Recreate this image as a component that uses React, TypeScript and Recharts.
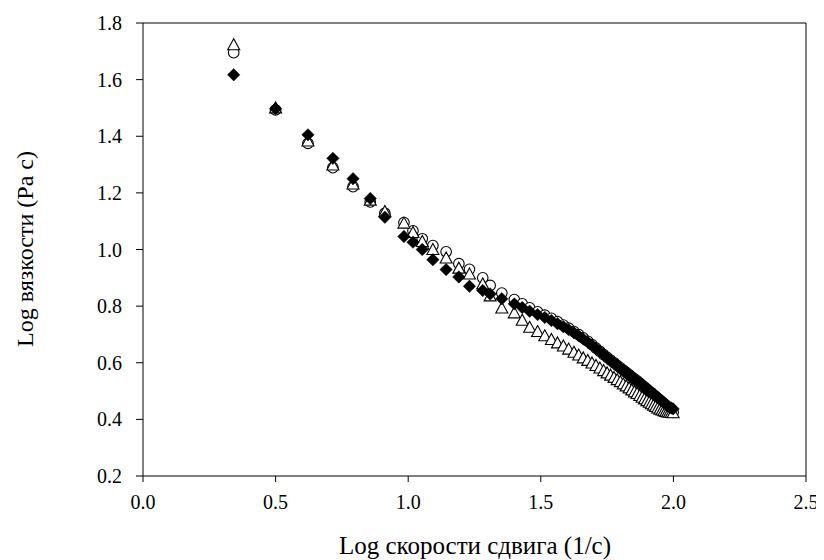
import React from 'react';
import { ScatterChart, Scatter, XAxis, YAxis, ReferenceLine } from 'recharts';

const xs = [
  0.342, 0.500, 0.622, 0.716, 0.792, 0.857, 0.912, 0.984, 1.018, 1.053,
  1.093, 1.143, 1.191, 1.231, 1.281, 1.309, 1.353, 1.400, 1.430, 1.458,
  1.488, 1.515, 1.540, 1.563, 1.585, 1.605, 1.625, 1.643, 1.660, 1.677,
  1.693, 1.708, 1.723, 1.737, 1.750, 1.763, 1.776, 1.788, 1.800, 1.811,
  1.822, 1.833, 1.843, 1.853, 1.863, 1.873, 1.882, 1.891, 1.900, 1.909,
  1.917, 1.925, 1.933, 1.941, 1.949, 1.957, 1.964, 1.971, 1.978, 1.985,
  1.992, 1.999,
];

const triY = [
  1.725, 1.502, 1.385, 1.300, 1.233, 1.176, 1.136, 1.095, 1.062, 1.030,
  1.002, 0.972, 0.936, 0.915, 0.880, 0.838, 0.795, 0.778, 0.752, 0.727,
  0.712, 0.697, 0.684, 0.672, 0.661, 0.650, 0.639, 0.629, 0.619, 0.610,
  0.601, 0.592, 0.583, 0.574, 0.566, 0.558, 0.550, 0.542, 0.535, 0.527,
  0.520, 0.513, 0.506, 0.499, 0.493, 0.486, 0.480, 0.474, 0.468, 0.462,
  0.457, 0.452, 0.447, 0.442, 0.438, 0.435, 0.432, 0.430, 0.428, 0.427,
  0.426, 0.425,
];

const circY = [
  1.695, 1.493, 1.375, 1.289, 1.222, 1.168, 1.128, 1.095, 1.066, 1.038,
  1.014, 0.992, 0.950, 0.930, 0.900, 0.873, 0.846, 0.823, 0.808, 0.794,
  0.780, 0.768, 0.757, 0.745, 0.733, 0.722, 0.710, 0.699, 0.688, 0.676,
  0.664, 0.652, 0.640, 0.629, 0.619, 0.609, 0.600, 0.591, 0.582, 0.574,
  0.566, 0.558, 0.550, 0.543, 0.536, 0.528, 0.521, 0.514, 0.507, 0.500,
  0.494, 0.487, 0.481, 0.474, 0.468, 0.462, 0.456, 0.450, 0.444, 0.438,
  0.432, 0.425,
];

const diaY = [
  1.617, 1.497, 1.405, 1.322, 1.250, 1.180, 1.114, 1.046, 1.026, 1.000,
  0.964, 0.929, 0.903, 0.870, 0.855, 0.843, 0.826, 0.808, 0.795, 0.782,
  0.770, 0.760, 0.749, 0.738, 0.727, 0.717, 0.706, 0.695, 0.684, 0.673,
  0.662, 0.651, 0.640, 0.629, 0.619, 0.609, 0.600, 0.591, 0.582, 0.574,
  0.566, 0.558, 0.550, 0.543, 0.536, 0.529, 0.522, 0.515, 0.508, 0.501,
  0.495, 0.489, 0.483, 0.477, 0.471, 0.465, 0.459, 0.453, 0.448, 0.443,
  0.440, 0.437,
];

const xTicks = [0, 0.5, 1.0, 1.5, 2.0, 2.5];
const yTicks = [0.2, 0.4, 0.6, 0.8, 1.0, 1.2, 1.4, 1.6, 1.8];

const xLabel = 'Log скорости сдвига (1/с)';
const yLabel = 'Log вязкости (Pa c)';

const triData = xs.map((x, i) => ({ x, y: triY[i] }));
const circData = xs.map((x, i) => ({ x, y: circY[i] }));
const diaData = xs.map((x, i) => ({ x, y: diaY[i] }));

const FONT = '"Liberation Serif", "Times New Roman", serif';

const Triangle = (p: any) => {
  const { cx, cy } = p;
  if (cx == null || cy == null) return null;
  const w = 6;
  const h = 5.5;
  return (
    <polygon
      points={`${cx},${cy - h} ${cx - w},${cy + h} ${cx + w},${cy + h}`}
      fill="#fff"
      stroke="#000"
      strokeWidth={1.1}
    />
  );
};

const Circle = (p: any) => {
  const { cx, cy } = p;
  if (cx == null || cy == null) return null;
  return <circle cx={cx} cy={cy} r={5.3} fill="#fff" stroke="#000" strokeWidth={1.1} />;
};

const Diamond = (p: any) => {
  const { cx, cy } = p;
  if (cx == null || cy == null) return null;
  const r = 6.2;
  return (
    <polygon
      points={`${cx},${cy - r} ${cx + r},${cy} ${cx},${cy + r} ${cx - r},${cy}`}
      fill="#000"
      stroke="#000"
      strokeWidth={0.5}
    />
  );
};

const XLab = () => (
  <text x={467} y={546} textAnchor="middle" fontFamily={FONT} fontSize={25} fill="#000">
    {xLabel}
  </text>
);

const YLab = () => (
  <text
    x={0}
    y={0}
    transform={`translate(25, 241) rotate(-90)`}
    textAnchor="middle"
    fontFamily={FONT}
    fontSize={24}
    fill="#000"
  >
    {yLabel}
  </text>
);

const tickStyle = { fontFamily: FONT, fontSize: 20, fill: '#000' };

export default function App() {
  return (
    <div style={{ width: 816, height: 552 }}>
      <style>{`html, body { overflow: hidden; }`}</style>
      <ScatterChart width={816} height={552} margin={{ top: 15, right: 18, bottom: 0, left: 0 }}>
        <XAxis
          type="number"
          dataKey="x"
          domain={[0, 2.5]}
          ticks={xTicks}
          tickFormatter={(v: number) => v.toFixed(1)}
          height={84}
          tickSize={6}
          tickMargin={13}
          axisLine={{ stroke: '#000' }}
          tickLine={{ stroke: '#000' }}
          tick={tickStyle}
          allowDataOverflow
          label={<XLab />}
        />
        <YAxis
          type="number"
          dataKey="y"
          domain={[0.2, 1.8]}
          ticks={yTicks}
          tickFormatter={(v: number) => v.toFixed(1)}
          width={135}
          tickSize={7}
          tickMargin={14}
          axisLine={{ stroke: '#000' }}
          tickLine={{ stroke: '#000' }}
          tick={tickStyle}
          allowDataOverflow
          label={<YLab />}
        />
        <ReferenceLine y={1.8} stroke="#000" />
        <ReferenceLine x={2.5} stroke="#000" />
        <Scatter data={circData} shape={Circle} isAnimationActive={false} />
        <Scatter data={triData} shape={Triangle} isAnimationActive={false} />
        <Scatter data={diaData} shape={Diamond} isAnimationActive={false} />
      </ScatterChart>
    </div>
  );
}
